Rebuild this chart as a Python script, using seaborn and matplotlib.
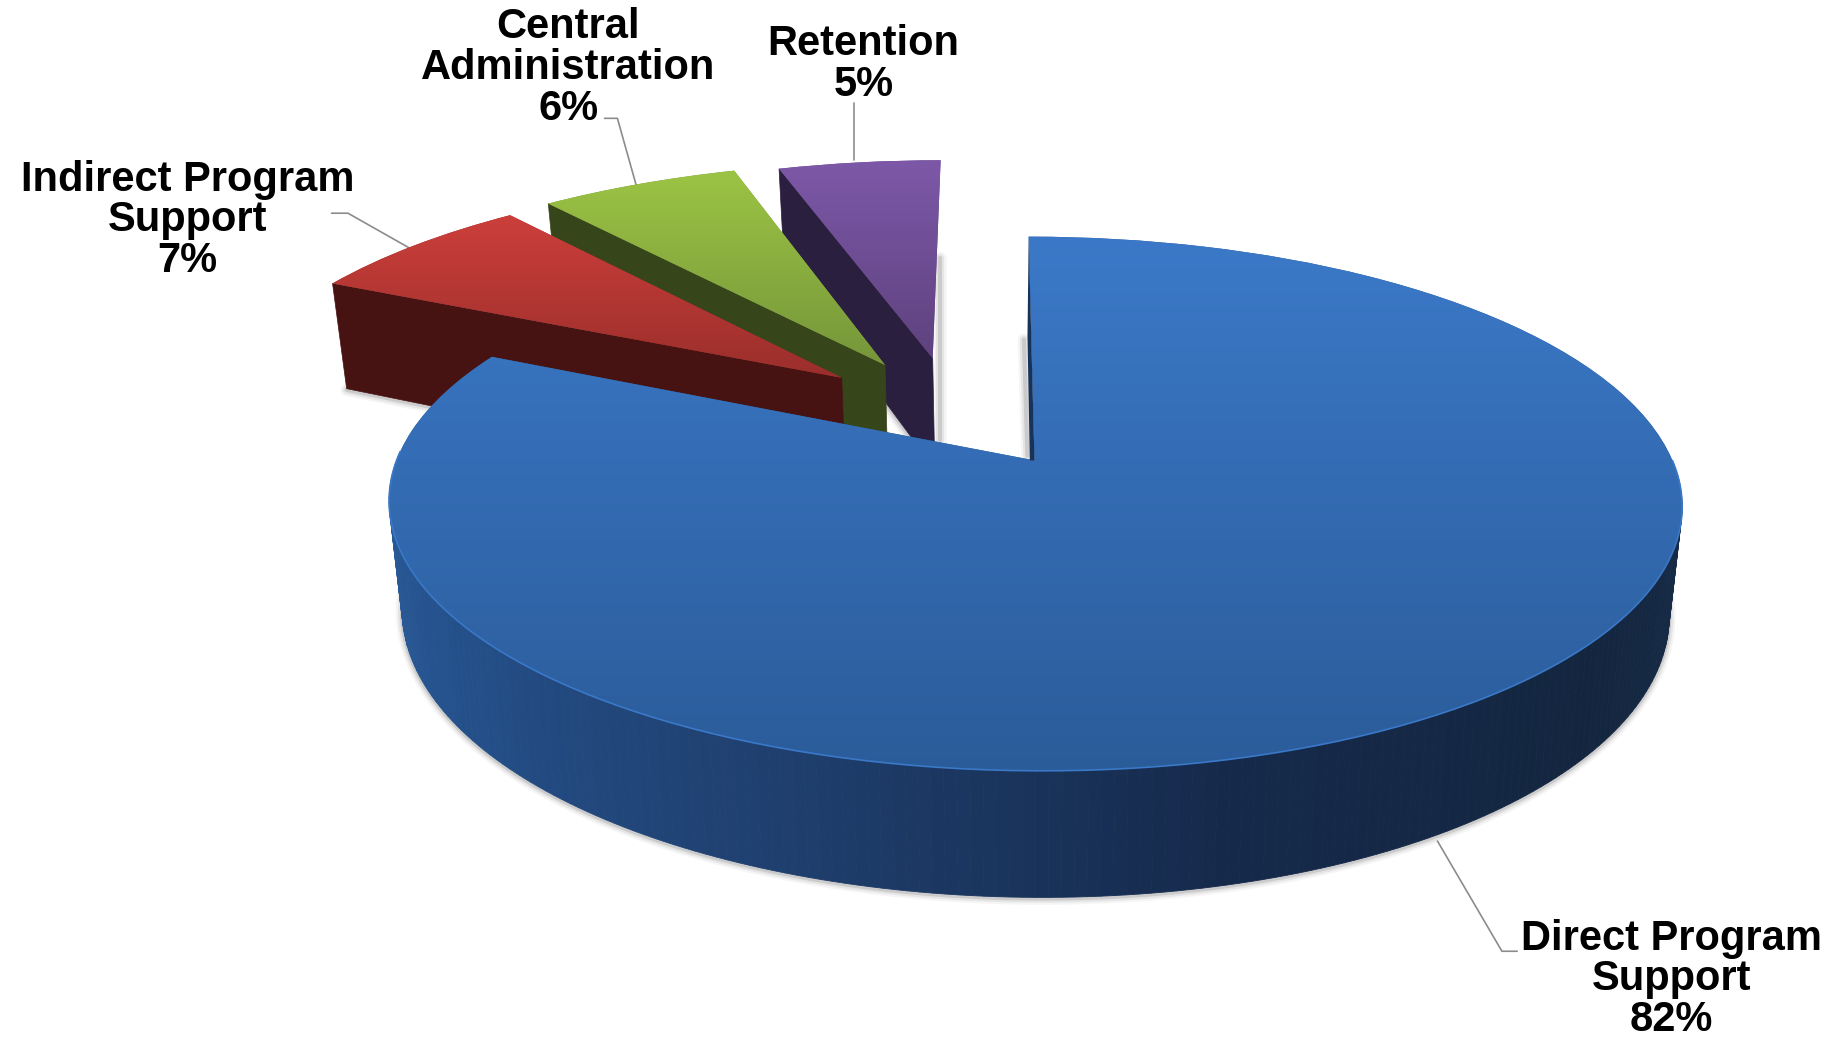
import numpy as np
import matplotlib
matplotlib.use('Agg')
import matplotlib.pyplot as plt
import seaborn as sns
from matplotlib.patches import Polygon
from matplotlib.transforms import Transform

categories = ['Direct Program\nSupport', 'Indirect Program\nSupport', 'Central\nAdministration', 'Retention']
shares = [82, 7, 6, 5]

# top face gradient (back to front), side wall colour
top_colors = [('#3b79c8', '#2b5c9a'), ('#cc3f3b', '#9a2e2b'), ('#9cc444', '#76963a'), ('#7d58a8', '#5e427e')]
wall_colors = ['#1f4170', '#471312', '#37451a', '#2b1f40']
# how far each slice is pulled out, in pie radii
pull = [(0, 0), (-0.315, 0.335), (-0.245, 0.39), (-0.166, 0.42)]
radii = [1.0, 1.01, 1.02, 1.0]

W, H = 1568, 885.2
C, K = 0.1623, 544.5
DEPTH = 90.5


def flat(x, y):
    # tilted pie plane -> picture coordinates
    w = 1 + C * y
    yy = (393 - 158.2 * y) / w
    xx = 883 + K * x / w + 0.026 * (yy - 393)
    return xx, yy


def below(x, y, depth=DEPTH):
    xx, yy = flat(x, y)
    return 885 + (xx - 885) * 0.98, yy + depth / (1 + C * y)


class PiePlane(Transform):
    input_dims = 2
    output_dims = 2

    def __init__(self, dx, dy):
        super().__init__()
        self.dx, self.dy = dx, dy

    def transform_non_affine(self, values):
        v = np.asarray(values)
        xx, yy = flat(v[:, 0] + self.dx, v[:, 1] + self.dy)
        return np.column_stack([xx, yy])


def soft_line(xs, ys, z):
    for lw, a in [(9, 0.05), (6, 0.09), (3, 0.16)]:
        ax.plot(xs, ys, color='#444444', lw=lw, alpha=a, zorder=z, solid_capstyle='round')


sns.set_theme(style='white')
plt.rcParams['font.family'] = ['Liberation Sans', 'DejaVu Sans']

fig = plt.figure(figsize=(18.37, 10.37), dpi=100)
ax = fig.add_axes([0, 0, 1, 1])
wedges, _ = ax.pie(shares, startangle=90, counterclock=False, radius=1)
ax.set_aspect('auto')
ramp = np.linspace(0, 1, 256)[:, None]

# side wall of the big slice, shaded left to right
side = sns.blend_palette(['#2c60a0', '#24508a', '#1f3f6e', '#15294a', '#14263f', '#172c48'], 200, as_cmap=True)
angs = np.radians(np.linspace(-182, -3, 181))
for i in range(len(angs) - 1):
    a = angs[i:i + 2]
    x1, y1 = flat(np.cos(a), np.sin(a))
    x2, y2 = below(np.cos(a), np.sin(a))
    pts = np.column_stack([np.r_[x1, x2[::-1]], np.r_[y1, y2[::-1]]])
    col = side(i / (len(angs) - 2))
    ax.add_patch(Polygon(pts, fc=col, ec=col, lw=0.6, zorder=10))
a = np.radians(np.linspace(-185, 0, 200))
bx, by = below(np.cos(a), np.sin(a))
soft_line(bx, by + 1, 9)

# back to front: retention, central, indirect, direct
for i in [3, 2, 1, 0]:
    w = wedges[i]
    dx, dy = pull[i]
    r = radii[i]
    z = 20 + (3 - i) * 3
    w.set_radius(r)
    w.set_transform(PiePlane(dx, dy) + ax.transData)
    w.set_facecolor(top_colors[i][1])
    w.set_edgecolor('none')
    w.set_linewidth(0)
    w.set_zorder(z + 1)

    t = np.radians(np.linspace(w.theta1, w.theta2, 100))
    rx, ry = flat(dx + r * np.cos(t), dy + r * np.sin(t))
    tip_x, tip_y = flat(dx, dy)
    grad = sns.blend_palette(top_colors[i], 64, as_cmap=True)
    top_y = min(ry.min(), tip_y)
    bot_y = max(ry.max(), tip_y)
    im = ax.imshow(ramp, cmap=grad, aspect='auto', zorder=z + 2,
                   extent=(min(rx.min(), tip_x) - 5, max(rx.max(), tip_x) + 5, bot_y, top_y))
    im.set_clip_path(w)

    if i > 0:
        # the cut face that looks to the left
        t0 = np.radians(w.theta2)
        ex, ey = dx + r * np.cos(t0), dy + r * np.sin(t0)
        p = [flat(dx, dy), flat(ex, ey), below(ex, ey, 101), below(dx, dy, 101)]
        ax.add_patch(Polygon(p, fc=wall_colors[i], ec=wall_colors[i], lw=0.5, zorder=z))
        p2 = np.array(p)
        soft_line(p2[2:, 0], p2[2:, 1] + 1, z - 1)

# dark sliver on the inner cut of the big slice, with its shadow
tip = np.array(flat(0, 0))
rim = np.array(flat(0, 1))
ax.add_patch(Polygon([rim, tip, tip + (-4, 0), rim + (-1, 85)], fc='#17335a', ec='none', zorder=34))
soft_line([tip[0] - 6, tip[0] - 9], [tip[1] - 4, tip[1] - 103], 5)

# purple slice drops a narrow shadow on its right
soft_line([802, 802], [220, 376], 5)

# light seam on the front rim of the big slice
a = np.radians(np.linspace(-182, 0, 200))
sx, sy = flat(np.cos(a), np.sin(a))
ax.plot(sx, sy, color='#3a78c8', lw=1.2, zorder=36)

# leaders
leaders = [
    ([1227, 1282, 1295], [718, 812, 812]),
    ([283, 297, 350], [182, 182, 212]),
    ([516, 527, 543], [101, 101, 158]),
    ([729, 729], [88, 137]),
]
for xs, ys in leaders:
    ax.plot(xs, ys, color='#8c8c8c', lw=1.2, zorder=8)

label_at = [(1427, 836), (160, 188), (485, 58), (737, 55)]
for name, val, (lx, ly) in zip(categories, shares, label_at):
    ax.text(lx, ly, f'{name}\n{val}%', ha='center', va='center', ma='center',
            fontsize=30, fontweight='bold', color='black', linespacing=1.02, zorder=40)

ax.set_xlim(0, W)
ax.set_ylim(H, 0)
ax.axis('off')
fig.savefig('out.png', dpi=100, facecolor='white')
